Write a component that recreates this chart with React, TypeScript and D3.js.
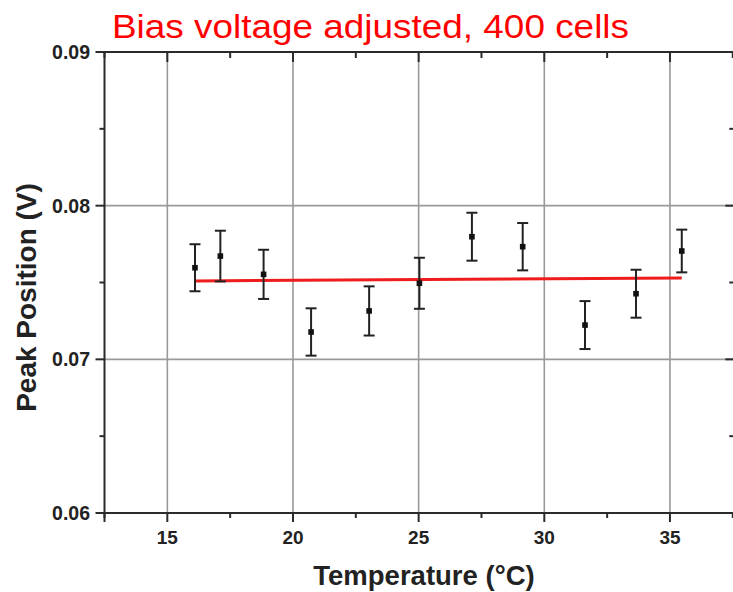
import React from "react";
import * as d3 from "d3";

const temperatures = [16.1, 17.11, 18.83, 20.72, 23.03, 25.03, 27.12, 29.14, 31.62, 33.65, 35.47];
const peakPositions = [0.07596, 0.07672, 0.07553, 0.07178, 0.07315, 0.07495, 0.07798, 0.07733, 0.07223, 0.07427, 0.07705];
const peakErrors = [0.00153, 0.00165, 0.0016, 0.00154, 0.0016, 0.00166, 0.00156, 0.00154, 0.00156, 0.00156, 0.00139];
const fitX = [16.1, 35.47];
const fitY = [0.0751, 0.07529];
const xMajorTicks = [15, 20, 25, 30, 35];
const xMinorTicks = [12.5, 17.5, 22.5, 27.5, 32.5, 37.5];
const yMajorTicks = [0.06, 0.07, 0.08, 0.09];
const yMinorTicks = [0.065, 0.075, 0.085];
const yGrid = [0.07, 0.08];
const titleText = "Bias voltage adjusted, 400 cells";
const xTitle = "Temperature (°C)";
const yTitle = "Peak Position (V)";

export default function App() {
  const W = 733, H = 592;
  const left = 104.5, right = 735.3, top = 52, bottom = 513;
  const x = d3.scaleLinear().domain([12.5, 37.6]).range([left, right]);
  const y = d3.scaleLinear().domain([0.06, 0.09]).range([bottom, top]);
  const axisColor = "#2b2b2b";
  const gridColor = "#9a9a9a";
  const textColor = "#222";
  const font = "'Liberation Sans', Arial, Helvetica, sans-serif";
  const line = d3.line<[number, number]>().x(d => x(d[0])).y(d => y(d[1]));
  const fitPts: [number, number][] = fitX.map((v, i) => [v, fitY[i]]);

  return (
    <svg width={W} height={H} style={{ position: "absolute", left: 0, top: 0, background: "#fff" }}>
      <rect x={0} y={0} width={W} height={H} fill="#fff" />
      {xMajorTicks.map(t => (
        <line key={"gx" + t} x1={x(t)} x2={x(t)} y1={top} y2={bottom} stroke={gridColor} strokeWidth={1.6} />
      ))}
      {yGrid.map(t => (
        <line key={"gy" + t} x1={left} x2={right} y1={y(t)} y2={y(t)} stroke={gridColor} strokeWidth={1.6} />
      ))}
      <rect x={left} y={top} width={right - left} height={bottom - top} fill="none" stroke={axisColor} strokeWidth={2} />
      {xMajorTicks.concat([12.5]).map(t => (
        <line key={"bt" + t} x1={x(t)} x2={x(t)} y1={bottom} y2={bottom + 9} stroke={axisColor} strokeWidth={2} />
      ))}
      {xMinorTicks.map(t => (
        <line key={"bm" + t} x1={x(t)} x2={x(t)} y1={bottom} y2={bottom + 5} stroke={axisColor} strokeWidth={2} />
      ))}
      {xMajorTicks.map(t => (
        <line key={"tt" + t} x1={x(t)} x2={x(t)} y1={top} y2={top + 10} stroke={axisColor} strokeWidth={2} />
      ))}
      {xMinorTicks.map(t => (
        <line key={"tm" + t} x1={x(t)} x2={x(t)} y1={top} y2={top + 6} stroke={axisColor} strokeWidth={2} />
      ))}
      {yMajorTicks.map(t => (
        <line key={"lt" + t} x1={left - 9} x2={left} y1={y(t)} y2={y(t)} stroke={axisColor} strokeWidth={2} />
      ))}
      {yMinorTicks.map(t => (
        <line key={"lm" + t} x1={left - 5} x2={left} y1={y(t)} y2={y(t)} stroke={axisColor} strokeWidth={2} />
      ))}
      {yMajorTicks.map(t => (
        <line key={"rt" + t} x1={right - 10} x2={right} y1={y(t)} y2={y(t)} stroke={axisColor} strokeWidth={2} />
      ))}
      {yMinorTicks.map(t => (
        <line key={"rm" + t} x1={right - 6} x2={right} y1={y(t)} y2={y(t)} stroke={axisColor} strokeWidth={2} />
      ))}
      {xMajorTicks.map(t => (
        <text key={"xl" + t} x={x(t)} y={543.5} textAnchor="middle" fontFamily={font} fontWeight="bold" fontSize={19} fill={textColor}>
          {t}
        </text>
      ))}
      {yMajorTicks.map(t => (
        <text key={"yl" + t} x={90} y={y(t)} dy="0.36em" textAnchor="end" fontFamily={font} fontWeight="bold" fontSize={19.5} fill={textColor}>
          {d3.format(".2f")(t)}
        </text>
      ))}
      <text x={424} y={585} textAnchor="middle" fontFamily={font} fontWeight="bold" fontSize={27.5} fill={textColor}>
        {xTitle}
      </text>
      <text transform={`translate(35.5,297.5) rotate(-90)`} textAnchor="middle" fontFamily={font} fontWeight="bold" fontSize={28} fill={textColor}>
        {yTitle}
      </text>
      <path d={line(fitPts) || ""} fill="none" stroke="#ee1c1c" strokeWidth={3} />
      {temperatures.map((t, i) => {
        const cx = x(t);
        const y1 = y(peakPositions[i] + peakErrors[i]);
        const y2 = y(peakPositions[i] - peakErrors[i]);
        return (
          <g key={"e" + i} stroke="#222" strokeWidth={2}>
            <line x1={cx} x2={cx} y1={y1} y2={y2} />
            <line x1={cx - 5.5} x2={cx + 5.5} y1={y1} y2={y1} />
            <line x1={cx - 5.5} x2={cx + 5.5} y1={y2} y2={y2} />
          </g>
        );
      })}
      {temperatures.map((t, i) => (
        <rect key={"p" + i} x={x(t) - 2.8} y={y(peakPositions[i]) - 2.8} width={5.6} height={5.6} fill="#111" />
      ))}
      <text x={112} y={37.5} fontFamily={font} fontSize={34} fill="#ff0000" textLength={517} lengthAdjust="spacingAndGlyphs">
        {titleText}
      </text>
    </svg>
  );
}
